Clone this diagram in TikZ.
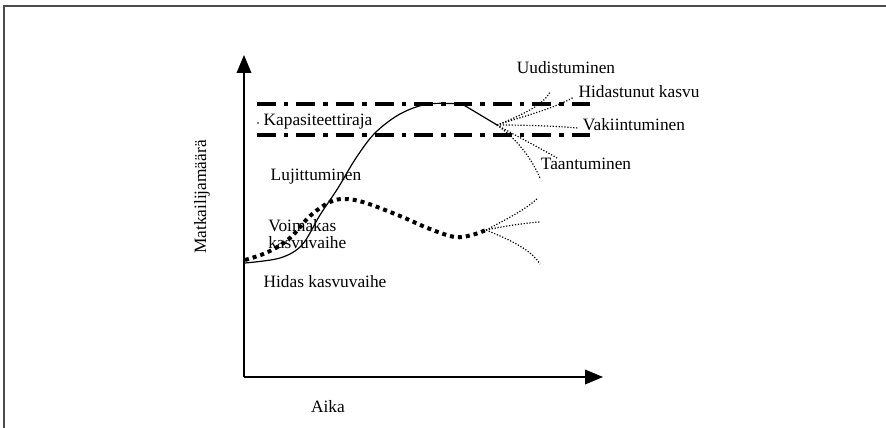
\documentclass[tikz,border=0pt]{standalone}
\usepackage{fontspec}
\setmainfont{Liberation Serif}
\usetikzlibrary{arrows.meta}

\begin{document}
\begin{tikzpicture}[x=0.75pt,y=-0.75pt,
  lbl/.style={font=\fontsize{13}{12.75}\selectfont,inner sep=0pt},
  axis/.style={line width=1.1pt,-{Triangle[length=13.5pt,width=11pt]}},
  capline/.style={line width=2.3pt,dash pattern=on 14pt off 6pt on 3.5pt off 6pt},
  growth/.style={line width=0.9pt},
  demand/.style={line width=3pt,dash pattern=on 3pt off 3pt},
  branch/.style={line width=0.9pt,dash pattern=on 0.9pt off 1.3pt}]
  \useasboundingbox (0,0) rectangle (886,428);
  \draw[line width=1.2pt,black!70] (4,428) -- (4,6) -- (886,6);

  \path
  (244,377) coordinate (origin)
  (244,55) coordinate (ytip)
  (603,377) coordinate (xtip)
  (257,104) coordinate (capA) (592,104) coordinate (capB)
  (257,135) coordinate (capC) (592,135) coordinate (capD)
  (497,125) coordinate (fanhi)
  (486,230) coordinate (fanlo)

  (202,197) node[lbl,rotate=90] (ylab) {Matkailijamäärä}
  (328,407) node[lbl] (xlab) {Aika}
  (318,122) node[lbl] (cap) {Kapasiteettiraja}
  (316,177) node[lbl] (luj) {Lujittuminen}
  (268,234) node[lbl,anchor=west,align=left] (voim) {Voimakas\\kasvuvaihe}
  (325,282) node[lbl] (hidas) {Hidas kasvuvaihe}
  (566,68) node[lbl] (uud) {Uudistuminen}
  (639,92) node[lbl] (hidk) {Hidastunut kasvu}
  (634,125) node[lbl] (vak) {Vakiintuminen}
  (586,164) node[lbl] (taan) {Taantuminen}
  ;
  \fill (258,123) circle (0.6pt);

  \draw[axis] (origin) -- (ytip);
  \draw[axis] (origin) -- (xtip);
  \draw[capline] (capA) -- (capB);
  \draw[capline] (capC) -- (capD);

  \draw[growth] plot[smooth,tension=0.55] coordinates {(245,263) (280,258) (302,245) (320,215) (338,188) (356,158) (375,133) (400,114) (428,104) (462,104)} -- (fanhi);
  \draw[demand] plot[smooth,tension=0.6] coordinates {(245,260) (268,252) (290,238) (310,216) (330,202) (346,199) (366,203) (400,216) (430,229) (455,237) (472,235) (fanlo)};

  \draw[branch] (fanhi) .. controls (525,114) and (544,104) .. (550,92);
  \draw[branch] (fanhi) .. controls (525,116) and (555,108) .. (574,97);
  \draw[branch] (fanhi) .. controls (525,125) and (555,126) .. (578,128);
  \draw[branch] (fanhi) .. controls (520,138) and (540,148) .. (557,158);
  \draw[branch] (fanhi) .. controls (515,138) and (530,155) .. (540,178);

  \draw[branch] (fanlo) .. controls (505,220) and (525,210) .. (538,198);
  \draw[branch] (fanlo) .. controls (505,226) and (525,223) .. (540,222);
  \draw[branch] (fanlo) .. controls (505,238) and (530,248) .. (540,264);
\end{tikzpicture}
\end{document}
